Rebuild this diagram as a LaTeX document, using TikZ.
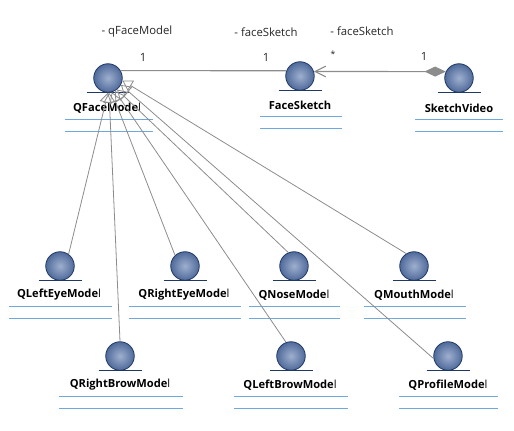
\documentclass[tikz,border=0pt]{standalone}
\usepackage{fontspec}
\setmainfont{Open Sans}
\usetikzlibrary{arrows.meta,calc}
\definecolor{ballE}{HTML}{1F3864}
\definecolor{ballM}{HTML}{4F6A9A}
\definecolor{ballC}{HTML}{9FB0CF}
\definecolor{sep}{HTML}{6FA8DC}
\definecolor{conn}{HTML}{8C8C8C}
\tikzset{
  x=0.75pt,y=-0.75pt,
  ball/.style={circle,draw=ballE,line width=0.6pt,minimum size=21.4pt,inner sep=0pt,inner color=ballC,outer color=ballM},
  base/.style={draw=ballE,line width=0.7pt},
  sepline/.style={draw=sep,line width=0.7pt},
  cname/.style={font=\fontsize{8.35pt}{10pt}\selectfont\bfseries,inner sep=0pt,text=black},
  role/.style={font=\fontsize{8.5pt}{10pt}\selectfont,inner sep=0pt,text=black!85},
  gen/.style={draw=conn,line width=0.6pt,-{Triangle[open,length=7.5pt,width=9pt,fill=none]}},
  assoc/.style={draw=conn,line width=0.8pt},
}
\newcommand{\umlclass}[8]{% id, ball x, ball y, label x, label y, sep left, sep right, name
  \node[ball] (#1) at (#2,#3) {};
  \draw[base] ($(#1.south)+(-21.5,0)$) -- ($(#1.south)+(21.5,0)$);
  \node[cname] (#1L) at (#4,#5) {#8Mode{\mdseries l}};
  \draw[sepline] (#6,#5+11) -- (#7,#5+11);
  \draw[sepline] (#6,#5+23) -- (#7,#5+23);
}
\begin{document}
\begin{tikzpicture}
\useasboundingbox (0,0) rectangle (514,430);
\umlclass{face}{108}{78}{107}{108}{65}{153}{QFace}
\node[ball] (sketch) at (300,76) {};
\draw[base] ($(sketch.south)+(-21.5,0)$) -- ($(sketch.south)+(21.5,0)$);
\node[cname] (sketchL) at (300,105) {FaceSketch};
\draw[sepline] (260,116) -- (342,116);
\draw[sepline] (260,128) -- (342,128);
\node[ball] (video) at (459,78) {};
\draw[base] ($(video.south)+(-21.5,0)$) -- ($(video.south)+(21.5,0)$);
\node[cname] (videoL) at (459,108) {SketchVideo};
\draw[sepline] (415,119) -- (503,119);
\draw[sepline] (415,131) -- (503,131);
\umlclass{leye}{60}{266}{59}{295}{9}{112}{QLeftEye}
\umlclass{reye}{185}{266}{184}{295}{129}{241}{QRightEye}
\umlclass{nose}{294}{266}{294}{295}{249}{340}{QNose}
\umlclass{mouth}{414}{266}{414}{295}{364}{466}{QMouth}
\umlclass{rbrow}{120}{356}{120}{385}{59}{183}{QRightBrow}
\umlclass{lbrow}{291}{356}{290}{385}{234}{348}{QLeftBrow}
\umlclass{profile}{448}{356}{448}{385}{399}{498}{QProfile}
\draw[gen] (leye.54) -- (face.-90);
\draw[gen] (rbrow.90) -- (face.-86);
\draw[gen] (reye.133) -- (face.-75);
\draw[gen] (lbrow.110) -- (face.-62);
\draw[gen] (nose.113) -- (face.-52);
\draw[gen] (profile.190) -- (face.-28);
\draw[gen] (mouth.122) -- (face.-10);
\draw[assoc] (face.30) -- (sketch.159);
\draw[assoc,{Diamond[length=16pt,width=7.5pt,fill=conn]}-{Straight Barb[length=8pt,width=8pt]}] (video.154) -- (sketch.18);
\node[role] (r1) at (137,32) {- qFaceModel};
\node[role] (r2) at (266,32) {- faceSketch};
\node[role] (r3) at (362,31) {- faceSketch};
\node[role] (m1) at (143,57) {1};
\node[role] (m2) at (266,57) {1};
\node[role,font=\fontsize{6.5pt}{8pt}\selectfont] (m3) at (333,54) {*};
\node[role] (m4) at (424,56) {1};
\end{tikzpicture}
\end{document}
